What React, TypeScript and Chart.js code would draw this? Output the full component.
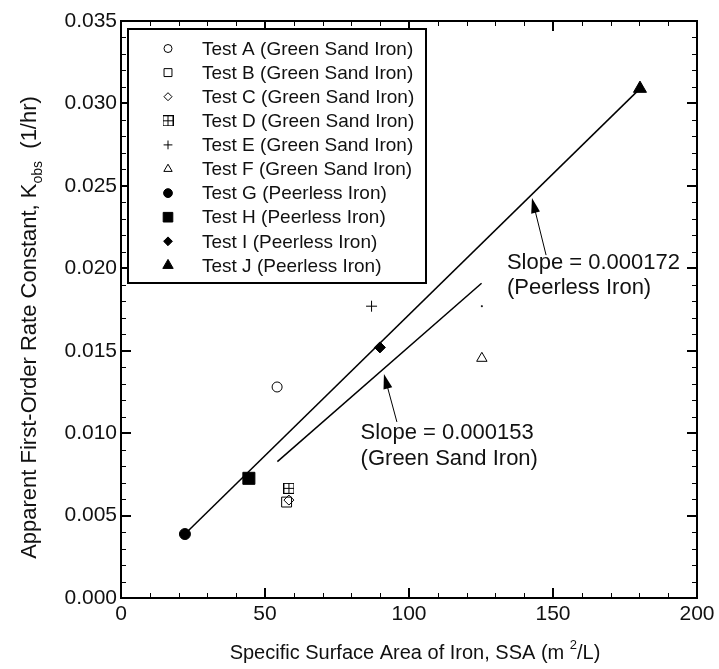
import React, { useEffect, useRef } from "react";
import { Chart, registerables } from "chart.js";
import { drawPoint } from "chart.js/helpers";

Chart.register(...registerables);

const FONT = '"Liberation Sans", Arial, Helvetica, sans-serif';

// ---------- data ----------
const seriesLabels = [
  "Test A (Green Sand Iron)",
  "Test B (Green Sand Iron)",
  "Test C (Green Sand Iron)",
  "Test D (Green Sand Iron)",
  "Test E (Green Sand Iron)",
  "Test F (Green Sand Iron)",
  "Test G (Peerless Iron)",
  "Test H (Peerless Iron)",
  "Test I (Peerless Iron)",
  "Test J (Peerless Iron)",
];
const testA = [[54.2, 0.0128]];
const testB = [[57.5, 0.00582]];
const testC = [[58.3, 0.00594]];
const testD = [[58.3, 0.00665]];
const testE = [[87.0, 0.0177], [125.3, 0.0177]];
const testF = [[125.3, 0.01454]];
const testG = [[22.2, 0.00388]];
const testH = [[44.4, 0.00726]];
const testI = [[89.9, 0.0152]];
const testJ = [[180.2, 0.0309]];
const peerlessFit = [[22.2, 0.00388], [180.2, 0.0309]];
const greenFit = [[54.3, 0.00827], [125.2, 0.01909]];
const xTickValues = [0, 50, 100, 150, 200];
const yTickValues = [0, 0.005, 0.01, 0.015, 0.02, 0.025, 0.03, 0.035];
const xMinorStep = 10;
const yMinorStep = 0.001;
const peerlessNote = ["Slope = 0.000172", "(Peerless Iron)"];
const greenNote = ["Slope = 0.000153", "(Green Sand Iron)"];
const xTitle = ["Specific Surface Area of Iron, SSA (m", "2", "/L)"];
const yTitle = ["Apparent First-Order Rate Constant, K", "obs", "  (1/hr)"];

// annotation anchors (data coordinates)
const peerlessNoteAt = { x: 134.0, y: 0.0203 };
const peerlessArrow = { tail: [147.6, 0.0208], tip: [142.7, 0.02426] };
const greenNoteAt = { x: 83.2, y: 0.01001 };
const greenArrow = { tail: [95.8, 0.01068], tip: [91.3, 0.01359] };

const toPts = (arr: number[][]) => arr.map(([x, y]) => ({ x, y }));

function makeBoxCross(size: number) {
  const c = document.createElement("canvas");
  c.width = size;
  c.height = size;
  const g = c.getContext("2d")!;
  g.strokeStyle = "#000";
  g.lineWidth = 1;
  g.strokeRect(0.5, 0.5, size - 1, size - 1);
  const m = Math.floor(size / 2) + 0.5;
  g.beginPath();
  g.moveTo(m, 0);
  g.lineTo(m, size);
  g.moveTo(0, m);
  g.lineTo(size, m);
  g.stroke();
  return c;
}

export default function App() {
  const ref = useRef<HTMLCanvasElement>(null);

  useEffect(() => {
    const boxCross = makeBoxCross(11);
    const markers: any[] = [
      { pointStyle: "circle", radius: 5, fill: false },
      { pointStyle: "rect", radius: 7, fill: false },
      { pointStyle: "rectRot", radius: 5, fill: false },
      { pointStyle: boxCross, radius: 5.5, fill: false },
      { pointStyle: "cross", radius: 5.5, fill: false },
      { pointStyle: "triangle", radius: 6, fill: false },
      { pointStyle: "circle", radius: 5.5, fill: true },
      { pointStyle: "rect", radius: 8.5, fill: true },
      { pointStyle: "rectRot", radius: 5.5, fill: true },
      { pointStyle: "triangle", radius: 7.5, fill: true },
    ];
    const seriesData = [testA, testB, testC, testD, testE, testF, testG, testH, testI, testJ];

    const pointSets = seriesData.map((d, i) => ({
      type: "scatter" as const,
      label: seriesLabels[i],
      data: toPts(d),
      pointStyle: markers[i].pointStyle,
      pointRadius: i === 4 ? [5.5, 1] : markers[i].radius,
      borderColor: "#000",
      backgroundColor: markers[i].fill ? "#000" : "rgba(0,0,0,0)",
      borderWidth: 1,
      showLine: false,
    }));

    const lineSets = [peerlessFit, greenFit].map((d, i) => ({
      type: "line" as const,
      label: i === 0 ? "Peerless fit" : "Green sand fit",
      data: toPts(d),
      borderColor: "#000",
      borderWidth: 1.5,
      pointRadius: 0,
      fill: false,
      tension: 0,
    }));

    const overlay = {
      id: "overlay",
      afterDraw(chart: any) {
        const { ctx, chartArea: ca } = chart;
        const xs = chart.scales.x;
        const ys = chart.scales.y;
        ctx.save();

        // frame
        ctx.strokeStyle = "#000";
        ctx.lineWidth = 2;
        ctx.strokeRect(ca.left, ca.top, ca.right - ca.left, ca.bottom - ca.top);

        // inward ticks on all four sides
        const nX = Math.round((xs.max - xs.min) / xMinorStep);
        for (let i = 0; i <= nX; i++) {
          const v = xs.min + i * xMinorStep;
          const major = xTickValues.some((t) => Math.abs(t - v) < 1e-9);
          const L = major ? 10 : 5;
          ctx.lineWidth = major ? 2 : 1;
          const px = Math.round(xs.getPixelForValue(v)) + (major ? 0 : 0.5);
          ctx.beginPath();
          ctx.moveTo(px, ca.bottom);
          ctx.lineTo(px, ca.bottom - L);
          ctx.moveTo(px, ca.top);
          ctx.lineTo(px, ca.top + L);
          ctx.stroke();
        }
        const nY = Math.round((ys.max - ys.min) / yMinorStep);
        for (let i = 0; i <= nY; i++) {
          const v = ys.min + i * yMinorStep;
          const major = yTickValues.some((t) => Math.abs(t - v) < 1e-9);
          const L = major ? 10 : 5;
          ctx.lineWidth = major ? 2 : 1;
          const py = Math.round(ys.getPixelForValue(v)) + (major ? 0 : 0.5);
          ctx.beginPath();
          ctx.moveTo(ca.left, py);
          ctx.lineTo(ca.left + L, py);
          ctx.moveTo(ca.right, py);
          ctx.lineTo(ca.right - L, py);
          ctx.stroke();
        }

        // legend
        const bx = ca.left + 7;
        const by = ca.top + 8;
        const bw = 298;
        const bh = 254;
        ctx.fillStyle = "#fff";
        ctx.fillRect(bx, by, bw, bh);
        ctx.lineWidth = 2;
        ctx.strokeStyle = "#000";
        ctx.strokeRect(bx, by, bw, bh);
        ctx.font = `19px ${FONT}`;
        ctx.textBaseline = "middle";
        ctx.textAlign = "left";
        chart.data.datasets.slice(0, 10).forEach((ds: any, i: number) => {
          const cy = by + 19.5 + i * 24.1;
          const m = markers[i];
          ctx.save();
          ctx.strokeStyle = "#000";
          ctx.fillStyle = m.fill ? "#000" : "rgba(0,0,0,0)";
          ctx.lineWidth = 1;
          drawPoint(ctx, { pointStyle: m.pointStyle, radius: m.radius * 0.8, borderWidth: 1, rotation: 0 }, bx + 40, cy);
          ctx.restore();
          ctx.fillStyle = "#111";
          ctx.fillText(ds.label, bx + 74, cy + 1);
        });

        // annotations
        const arrow = (a: any) => {
          const tx = xs.getPixelForValue(a.tail[0]);
          const ty = ys.getPixelForValue(a.tail[1]);
          const hx = xs.getPixelForValue(a.tip[0]);
          const hy = ys.getPixelForValue(a.tip[1]);
          const ang = Math.atan2(hy - ty, hx - tx);
          const len = 15;
          const hw = 4.5;
          ctx.strokeStyle = "#000";
          ctx.lineWidth = 1;
          ctx.beginPath();
          ctx.moveTo(tx, ty);
          ctx.lineTo(hx - Math.cos(ang) * len * 0.8, hy - Math.sin(ang) * len * 0.8);
          ctx.stroke();
          ctx.fillStyle = "#000";
          ctx.beginPath();
          ctx.moveTo(hx, hy);
          ctx.lineTo(hx - Math.cos(ang) * len - Math.sin(ang) * hw, hy - Math.sin(ang) * len + Math.cos(ang) * hw);
          ctx.lineTo(hx - Math.cos(ang) * len + Math.sin(ang) * hw, hy - Math.sin(ang) * len - Math.cos(ang) * hw);
          ctx.closePath();
          ctx.fill();
        };
        arrow(peerlessArrow);
        arrow(greenArrow);
        ctx.font = `22px ${FONT}`;
        ctx.fillStyle = "#111";
        ctx.textAlign = "left";
        ctx.textBaseline = "middle";
        const note = (lines: string[], at: any, gap: number) => {
          const px = xs.getPixelForValue(at.x);
          const py = ys.getPixelForValue(at.y);
          lines.forEach((t, i) => ctx.fillText(t, px, py + i * gap));
        };
        note(peerlessNote, peerlessNoteAt, 25);
        note(greenNote, greenNoteAt, 26);

        // axis titles
        ctx.fillStyle = "#111";
        const big = `20px ${FONT}`;
        const small = `13px ${FONT}`;
        // x title with superscript
        ctx.font = big;
        const w0 = ctx.measureText(xTitle[0] + " ").width;
        const w2 = ctx.measureText(xTitle[2]).width;
        ctx.font = small;
        const w1 = ctx.measureText(xTitle[1]).width;
        const total = w0 + w1 + w2;
        let sx = (ca.left + ca.right) / 2 + 6 - total / 2;
        const sy = 653;
        ctx.textAlign = "left";
        ctx.textBaseline = "middle";
        ctx.font = big;
        ctx.fillText(xTitle[0], sx, sy);
        sx += w0;
        ctx.font = small;
        ctx.fillText(xTitle[1], sx, sy - 8);
        sx += w1;
        ctx.font = big;
        ctx.fillText(xTitle[2], sx, sy);

        // y title with subscript, rotated
        const yBig = `22px ${FONT}`;
        const ySmall = `14px ${FONT}`;
        ctx.save();
        ctx.translate(30, (ca.top + ca.bottom) / 2 + 18);
        ctx.rotate(-Math.PI / 2);
        ctx.font = yBig;
        const v0 = ctx.measureText(yTitle[0]).width;
        const v2 = ctx.measureText(yTitle[2]).width;
        ctx.font = ySmall;
        const v1 = ctx.measureText(yTitle[1]).width;
        let tx = -(v0 + v1 + v2) / 2;
        ctx.font = yBig;
        ctx.fillText(yTitle[0], tx, 0);
        tx += v0;
        ctx.font = ySmall;
        ctx.fillText(yTitle[1], tx, 8);
        tx += v1;
        ctx.font = yBig;
        ctx.fillText(yTitle[2], tx, 0);
        ctx.restore();

        ctx.restore();
      },
    };

    const chart = new Chart(ref.current!, {
      type: "scatter",
      data: { datasets: [...pointSets, ...lineSets] as any },
      options: {
        responsive: false,
        animation: false,
        devicePixelRatio: 1,
        events: [],
        layout: { padding: { top: 21, right: 22, left: 0, bottom: 0 } },
        plugins: { legend: { display: false }, tooltip: { enabled: false } },
        scales: {
          x: {
            type: "linear",
            min: 0,
            max: 200,
            afterBuildTicks: (s: any) => {
              s.ticks = xTickValues.map((v) => ({ value: v }));
            },
            afterFit: (s: any) => {
              s.height = 71;
            },
            grid: { display: false, drawTicks: false },
            border: { display: false },
            ticks: {
              font: { family: FONT, size: 21 },
              color: "#111",
              padding: 4,
              maxRotation: 0,
              callback: (v: any) => String(v),
            },
          },
          y: {
            type: "linear",
            min: 0,
            max: 0.035,
            afterBuildTicks: (s: any) => {
              s.ticks = yTickValues.map((v) => ({ value: v }));
            },
            afterFit: (s: any) => {
              s.width = 121;
            },
            grid: { display: false, drawTicks: false },
            border: { display: false },
            ticks: {
              font: { family: FONT, size: 21 },
              color: "#111",
              padding: 4,
              callback: (v: any) => Number(v).toFixed(3),
            },
          },
        },
      },
      plugins: [overlay],
    });
    return () => chart.destroy();
  }, []);

  return (
    <div style={{ position: "absolute", left: 0, top: 0, width: 719, height: 669, background: "#fff" }}>
      <canvas ref={ref} width={719} height={669} style={{ display: "block" }} />
    </div>
  );
}
